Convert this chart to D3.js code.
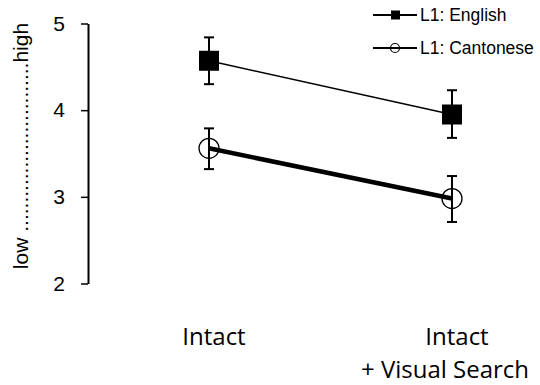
<!DOCTYPE html>
<html><head><meta charset="utf-8">
<script src="https://cdn.jsdelivr.net/npm/d3@7"></script>
<style>body{margin:0;background:#fff}svg{display:block}</style>
</head><body>
<svg id="c" width="540" height="385"></svg>
<script>
const categories = ["Intact", "Intact+VS"];
const categoryLines = [["Intact"], ["Intact", "+ Visual Search"]];
const seriesNames = ["L1: English", "L1: Cantonese"];
const englishMean = [4.57, 3.95];
const englishLow = [4.30, 3.68];
const englishHigh = [4.84, 4.23];
const cantoMean = [3.56, 2.98];
const cantoLow = [3.32, 2.71];
const cantoHigh = [3.79, 3.24];
const yTicks = [2, 3, 4, 5];
const yLabel = "low " + ".".repeat(29) + "high";

const svg = d3.select("#c");
const y = d3.scaleLinear().domain([2, 5]).range([283.5, 23.5]);
const x = d3.scalePoint().domain(categories).range([209, 452]);

// y axis
const ax = svg.append("g").attr("transform", "translate(88,0)")
  .call(d3.axisLeft(y).tickValues(yTicks).tickSize(7).tickSizeOuter(0).tickPadding(16).tickFormat(d3.format("d")));
ax.select(".domain").attr("stroke", "#000").attr("stroke-width", 2);
ax.selectAll(".tick line").attr("stroke", "#000").attr("stroke-width", 1.5);
ax.selectAll(".tick text").attr("font-family", "Liberation Sans, Arial, sans-serif").attr("font-size", 21).attr("fill", "#000");

svg.append("text").attr("transform", "translate(28,146) rotate(-90)")
  .attr("text-anchor", "middle").attr("font-family", "Liberation Sans, Arial, sans-serif")
  .attr("font-size", 21).text(yLabel);

// x labels
categories.forEach((c, i) => {
  const t = svg.append("text").attr("text-anchor", "middle")
    .attr("font-family", "Open Sans, sans-serif").attr("font-size", 24).attr("fill", "#000");
  categoryLines[i].forEach((ln, j) => {
    t.append("tspan").attr("x", x(c) + (j === 0 ? 5 : -7)).attr("y", 345 + j * 33).text(ln);
  });
});

const series = [
  {mean: englishMean, lo: englishLow, hi: englishHigh, lw: 1.5, marker: "square"},
  {mean: cantoMean, lo: cantoLow, hi: cantoHigh, lw: 4.5, marker: "circle"}
];

series.forEach(s => {
  svg.append("path").datum(categories)
    .attr("d", d3.line().x(c => x(c)).y((c, i) => y(s.mean[i])))
    .attr("fill", "none").attr("stroke", "#000").attr("stroke-width", s.lw);
  categories.forEach((c, i) => {
    const cx = x(c);
    svg.append("line").attr("x1", cx).attr("x2", cx).attr("y1", y(s.lo[i])).attr("y2", y(s.hi[i]))
      .attr("stroke", "#000").attr("stroke-width", 2);
    [s.lo[i], s.hi[i]].forEach(v => svg.append("line").attr("x1", cx - 5).attr("x2", cx + 5)
      .attr("y1", y(v)).attr("y2", y(v)).attr("stroke", "#000").attr("stroke-width", 2));
    if (s.marker === "square") {
      svg.append("rect").attr("x", cx - 10).attr("y", y(s.mean[i]) - 10).attr("width", 20).attr("height", 20).attr("fill", "#000");
    } else {
      svg.append("circle").attr("cx", cx).attr("cy", y(s.mean[i])).attr("r", 10)
        .attr("fill", "none").attr("stroke", "#000").attr("stroke-width", 1.3);
    }
  });
});

// legend
seriesNames.forEach((n, i) => {
  const ly = 15 + i * 33;
  svg.append("line").attr("x1", 373).attr("x2", 417).attr("y1", ly).attr("y2", ly).attr("stroke", "#000").attr("stroke-width", 2);
  if (i === 0) svg.append("rect").attr("x", 391).attr("y", ly - 4.5).attr("width", 9).attr("height", 9).attr("fill", "#000");
  else svg.append("circle").attr("cx", 395).attr("cy", ly).attr("r", 4.5).attr("fill", "none").attr("stroke", "#000").attr("stroke-width", 1.2);
  svg.append("text").attr("x", 420).attr("y", ly + 6).attr("font-family", "Liberation Sans, Arial, sans-serif")
    .attr("font-size", 17.5).attr("fill", "#000").text(n);
});
</script>
</body></html>
